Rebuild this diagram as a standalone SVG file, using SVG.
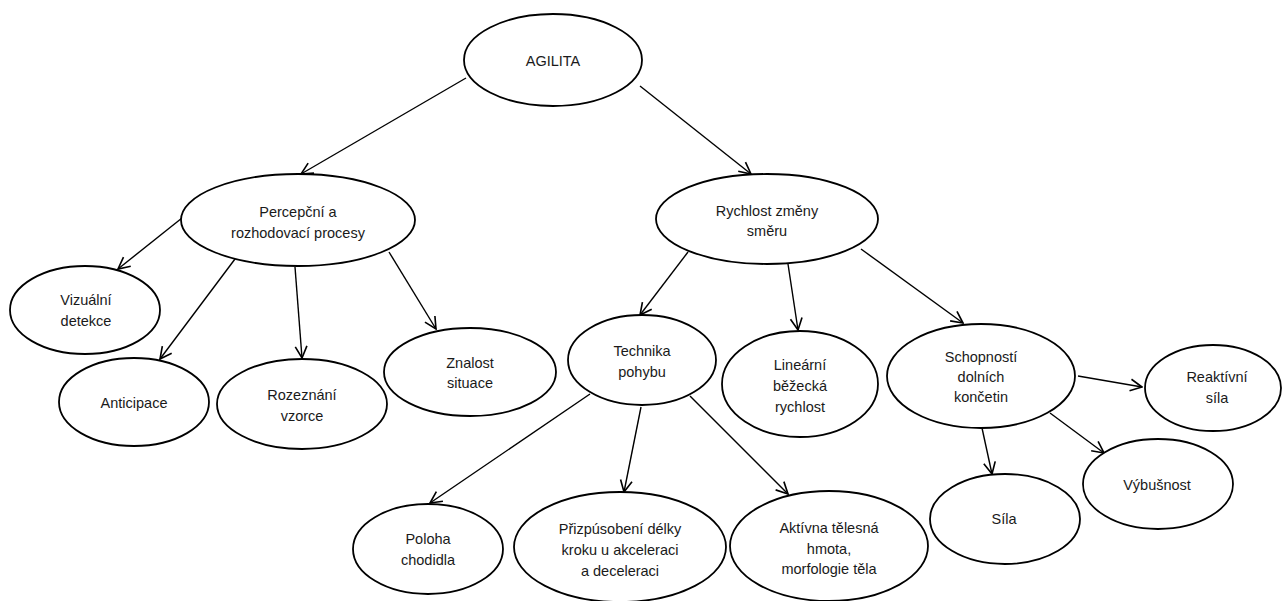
<svg xmlns="http://www.w3.org/2000/svg" width="1282" height="601" viewBox="0 0 1282 601">
<style>
.n ellipse{fill:#fff;stroke:#000;stroke-width:1.8}
.n text{font-family:"Liberation Sans",Arial,sans-serif;font-size:14.5px;fill:#1a1a1a;text-anchor:middle;dominant-baseline:central}
#edges line{stroke:#000;stroke-width:1.4;marker-end:url(#ah)}
</style>
<defs>
<marker id="ah" markerUnits="userSpaceOnUse" markerWidth="14" markerHeight="14" viewBox="0 0 12 12" refX="11" refY="6" orient="auto">
<path d="M1,1 L11,6 L1,11" fill="none" stroke="#000" stroke-width="1.4"/>
</marker>
</defs>
<rect width="1282" height="601" fill="#fff"/>
<g id="edges">
<line x1="466" y1="78" x2="301" y2="174"/>
<line x1="640" y1="86" x2="751" y2="174"/>
<line x1="182" y1="218" x2="118" y2="269"/>
<line x1="235" y1="259" x2="160" y2="359"/>
<line x1="295" y1="267" x2="302" y2="358"/>
<line x1="389" y1="252" x2="436" y2="329"/>
<line x1="688" y1="252" x2="640" y2="315"/>
<line x1="788" y1="264" x2="798" y2="330"/>
<line x1="861" y1="249" x2="963" y2="323"/>
<line x1="590" y1="394" x2="430" y2="503"/>
<line x1="641" y1="407" x2="624" y2="492"/>
<line x1="690" y1="396" x2="788" y2="494"/>
<line x1="1078" y1="376" x2="1142" y2="387"/>
<line x1="1050" y1="413" x2="1104" y2="453"/>
<line x1="982" y1="428" x2="992" y2="474"/>
</g>
<g id="agilita" class="n"><ellipse cx="553" cy="60" rx="89" ry="46"/><text x="553" y="61">AGILITA</text></g>
<g id="percepcni" class="n"><ellipse cx="298" cy="220" rx="117" ry="46"/><text x="298" y="212">Percepční a</text><text x="298" y="233">rozhodovací procesy</text></g>
<g id="rychlost" class="n"><ellipse cx="767" cy="219" rx="111" ry="45"/><text x="767" y="211">Rychlost změny</text><text x="767" y="231">směru</text></g>
<g id="vizualni" class="n"><ellipse cx="85" cy="310" rx="75" ry="44"/><text x="86" y="300">Vizuální</text><text x="86" y="321">detekce</text></g>
<g id="anticipace" class="n"><ellipse cx="134" cy="402" rx="75" ry="44"/><text x="134" y="403">Anticipace</text></g>
<g id="rozeznani" class="n"><ellipse cx="302" cy="404" rx="85" ry="45"/><text x="302" y="395">Rozeznání</text><text x="302" y="416">vzorce</text></g>
<g id="znalost" class="n"><ellipse cx="470" cy="372" rx="86" ry="44"/><text x="470" y="363">Znalost</text><text x="470" y="383">situace</text></g>
<g id="technika" class="n"><ellipse cx="642" cy="360" rx="74" ry="45"/><text x="642" y="351">Technika</text><text x="642" y="372">pohybu</text></g>
<g id="linearni" class="n"><ellipse cx="800" cy="384" rx="78" ry="53"/><text x="800" y="365">Lineární</text><text x="800" y="386">běžecká</text><text x="800" y="407">rychlost</text></g>
<g id="schopnosti" class="n"><ellipse cx="981" cy="376" rx="94" ry="52"/><text x="981" y="357">Schopností</text><text x="981" y="377">dolních</text><text x="981" y="397">končetin</text></g>
<g id="reaktivni" class="n"><ellipse cx="1213" cy="388" rx="68" ry="43"/><text x="1217" y="377">Reaktívní</text><text x="1217" y="398">síla</text></g>
<g id="vybusnost" class="n"><ellipse cx="1158" cy="484" rx="75" ry="45"/><text x="1157" y="485">Výbušnost</text></g>
<g id="sila" class="n"><ellipse cx="1005" cy="519" rx="75" ry="45"/><text x="1004" y="519">Síla</text></g>
<g id="aktivna" class="n"><ellipse cx="829" cy="546" rx="99" ry="55"/><text x="829" y="528">Aktívna tělesná</text><text x="829" y="549">hmota,</text><text x="829" y="569">morfologie těla</text></g>
<g id="prizpusobeni" class="n"><ellipse cx="620" cy="547" rx="106" ry="55"/><text x="620" y="529">Přizpúsobení délky</text><text x="620" y="550">kroku u akceleraci</text><text x="620" y="571">a deceleraci</text></g>
<g id="poloha" class="n"><ellipse cx="428" cy="549" rx="75" ry="45"/><text x="428" y="539">Poloha</text><text x="428" y="560">chodidla</text></g>
</svg>
